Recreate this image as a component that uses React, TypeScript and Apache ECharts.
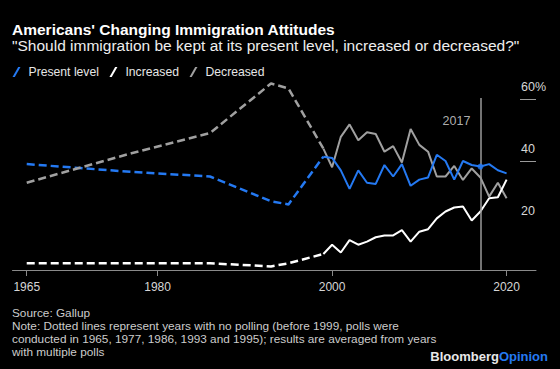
import React, { useEffect, useRef } from "react";
import * as echarts from "echarts";

const yearsEarly = [1965, 1977, 1986, 1993, 1995, 1999];
const presentEarly = [39, 36.5, 35, 27, 26, 41.4];
const increasedEarly = [7, 7, 7, 6, 7, 10];
const decreasedEarly = [33, 42.5, 49, 65, 63.4, 44];

const yearsPoll = [1999, 2000, 2001, 2002, 2003, 2004, 2005, 2006, 2007, 2008, 2009, 2010, 2011, 2012, 2013, 2014, 2015, 2016, 2017, 2018, 2019, 2020];
const presentPoll = [41.4, 41, 37, 31, 37, 33, 32.6, 38.7, 35, 39, 32, 34, 34.7, 42, 40, 34, 40, 38.7, 38.2, 39, 37, 36];
const increasedPoll = [10, 13, 10.5, 14.5, 13, 14, 15.4, 16, 16, 17.7, 14, 17.2, 18, 21.5, 23.7, 25, 25.3, 20.8, 23.7, 28, 28.3, 34];
const decreasedPoll = [44, 38, 47.8, 51.8, 46.7, 49.3, 48.7, 43, 44.8, 39.5, 50.3, 45.2, 43, 35, 35, 38.4, 33.9, 37.6, 34.7, 28.5, 33, 28];

const xTickYears = [1965, 1980, 2000, 2020];
const yLabelValues = [20, 40, 60];
const yTickValues = [40, 60];
const markerYear = 2017;
const seriesNames = ["Present level", "Increased", "Decreased"];

const BLUE = "#2479f2";
const WHITE = "#ffffff";
const GRAY = "#a0a0a0";
const FONT = "Liberation Sans, Arial, Helvetica, sans-serif";
const Y_MIN = 4.84;
const Y_MAX = 70;

const pair = (xs: number[], ys: number[]) => xs.map((x, i) => [x, ys[i]]);

export default function App() {
  const ref = useRef<HTMLDivElement>(null);
  useEffect(() => {
    if (!ref.current) return;
    const chart = echarts.init(ref.current, null, { renderer: "svg" });
    const dashed = (name: string, color: string, data: number[][]) => ({
      name,
      type: "line",
      data,
      showSymbol: false,
      symbol: "none",
      color,
      lineStyle: { color, width: 2.5, type: [8, 4] },
      z: 3,
    });
    const solid = (name: string, color: string, data: number[][], z: number) => ({
      name,
      type: "line",
      data,
      showSymbol: false,
      symbol: "none",
      color,
      lineStyle: { color, width: 2 },
      z,
    });
    const idx2017 = yearsPoll.indexOf(markerYear);
    chart.setOption({
      animation: false,
      backgroundColor: "#000000",
      textStyle: { fontFamily: FONT },
      title: [
        {
          text: "Americans' Changing Immigration Attitudes",
          left: 12,
          top: 20,
          padding: 0,
          textStyle: { color: "#ffffff", fontSize: 15.5, fontWeight: "bold", lineHeight: 18, fontFamily: FONT },
        },
        {
          text: '"Should immigration be kept at its present level, increased or decreased?"',
          left: 12,
          top: 37,
          padding: 0,
          textStyle: { color: "#eeeeee", fontSize: 15.5, fontWeight: "normal", lineHeight: 17, fontFamily: FONT },
        },
        {
          text:
            "Source: Gallup\nNote: Dotted lines represent years with no polling (before 1999, polls were\nconducted in 1965, 1977, 1986, 1993 and 1995); results are averaged from years\nwith multiple polls",
          left: 12,
          top: 306.8,
          padding: 0,
          textStyle: { color: "#cccccc", fontSize: 11.8, fontWeight: "normal", lineHeight: 12.9, fontFamily: FONT },
        },
        {
          text: "{a|Bloomberg}{b|Opinion}",
          right: 12,
          top: 348,
          padding: 0,
          textStyle: {
            fontFamily: FONT,
            rich: {
              a: { color: "#e8e8e8", fontSize: 13, fontWeight: "bold", lineHeight: 16, fontFamily: FONT },
              b: { color: BLUE, fontSize: 13, fontWeight: "bold", lineHeight: 16, fontFamily: FONT },
            },
          },
        },
      ],
      legend: {
        data: seriesNames,
        left: 12.5,
        top: 66,
        padding: 0,
        itemWidth: 8,
        itemHeight: 10,
        itemGap: 10.5,
        icon: "path://M0,10L2.3,10L8,0L5.7,0Z",
        textStyle: { color: "#e6e6e6", fontSize: 12.2, fontFamily: FONT, padding: [0, 0, 0, 3] },
        selectedMode: false,
      },
      grid: { left: 12.5, right: 24, top: 68, bottom: 99, containLabel: false },
      xAxis: {
        type: "value",
        min: 1963.37,
        max: 2023.37,
        axisLine: { show: true, lineStyle: { color: "#8a8a8a", width: 1 } },
        axisTick: { show: true, length: 6, customValues: xTickYears, lineStyle: { color: "#8a8a8a", width: 1 } },
        axisLabel: {
          customValues: xTickYears,
          color: "#d6d6d6",
          fontSize: 12,
          margin: 11,
          fontFamily: FONT,
          formatter: (v: number) => String(v),
        },
        splitLine: { show: false },
      },
      yAxis: {
        type: "value",
        position: "right",
        min: Y_MIN,
        max: Y_MAX,
        axisLine: { show: false },
        axisTick: {
          show: true,
          inside: true,
          length: 16,
          customValues: yTickValues,
          lineStyle: { color: "#9a9a9a", width: 1 },
        },
        axisLabel: {
          customValues: yLabelValues,
          inside: true,
          align: "left",
          verticalAlign: "bottom",
          margin: 15,
          lineHeight: 14,
          padding: [0, 0, 5, 0],
          color: "#d6d6d6",
          fontSize: 12.5,
          fontFamily: FONT,
          formatter: (v: number) => (v === 60 ? "60%" : String(v)),
        },
        splitLine: { show: false },
      },
      series: [
        dashed(seriesNames[0], BLUE, pair(yearsEarly, presentEarly)),
        dashed(seriesNames[1], WHITE, pair(yearsEarly, increasedEarly)),
        dashed(seriesNames[2], GRAY, pair(yearsEarly, decreasedEarly)),
        solid(seriesNames[2], GRAY, pair(yearsPoll, decreasedPoll), 3),
        solid(seriesNames[1], WHITE, pair(yearsPoll, increasedPoll), 4),
        solid(seriesNames[0], BLUE, pair(yearsPoll, presentPoll), 5),
        {
          name: "marker",
          type: "scatter",
          data: [[markerYear, presentPoll[idx2017]]],
          symbol: "circle",
          symbolSize: 6,
          itemStyle: { color: BLUE },
          z: 6,
          markLine: {
            silent: true,
            symbol: "none",
            label: { show: false },
            lineStyle: { color: "#9a9a9a", width: 1.5, type: "solid" },
            data: [[{ coord: [markerYear, Y_MIN] }, { coord: [markerYear, 60.3] }]],
          },
        },
        {
          name: "markerLabel",
          type: "scatter",
          data: [[markerYear, 53]],
          symbolSize: 0,
          itemStyle: { color: "transparent" },
          label: {
            show: true,
            position: "left",
            distance: 10,
            formatter: String(markerYear),
            color: "#dddddd",
            fontSize: 12.5,
            fontFamily: FONT,
          },
          z: 6,
        },
      ],
    });
    return () => chart.dispose();
  }, []);
  return <div ref={ref} style={{ width: 560, height: 369, position: "absolute", left: 0, top: 0 }} />;
}
